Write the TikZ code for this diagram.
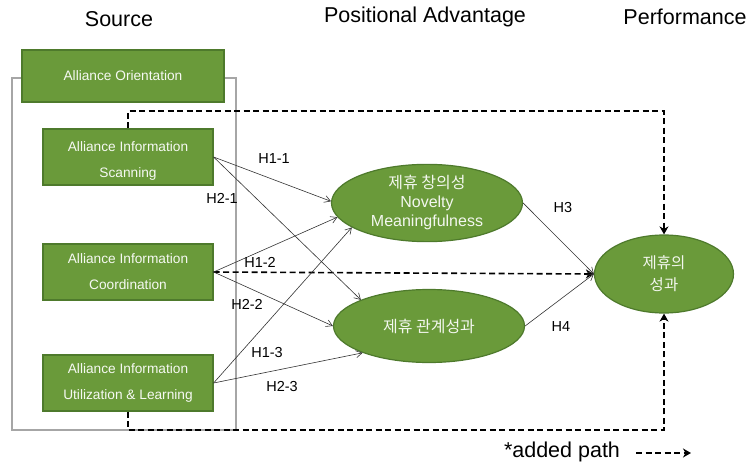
\documentclass[tikz,border=0pt]{standalone}
\usepackage{fontspec}
\setmainfont{Liberation Sans}
\newfontfamily\kor{Noto Sans CJK KR}
\usetikzlibrary{arrows.meta,shapes.geometric}
\definecolor{boxgreen}{HTML}{6A9A3A}
\definecolor{edgegreen}{HTML}{4E7A2C}
\definecolor{framegray}{HTML}{A6A6A6}
\begin{document}
\begin{tikzpicture}[x=1pt,y=-1pt,
	srcbox/.style={draw=edgegreen,line width=1.2pt,fill=boxgreen,text=white!94!boxgreen,
		minimum width=170pt,minimum height=56pt,inner sep=0pt,align=center,
		font=\fontsize{13.7}{26}\selectfont},
	construct/.style={ellipse,draw=edgegreen,line width=1.2pt,fill=boxgreen,text=white!92!boxgreen,
		minimum width=191pt,minimum height=73pt,inner sep=0pt,align=center,
		font=\fontsize{16}{19}\selectfont},
	title/.style={font=\fontsize{21.5}{24}\selectfont},
	hyp/.style={font=\fontsize{14.5}{16}\selectfont},
	path/.style={-{Straight Barb[length=6pt,width=7pt]},line width=.6pt,black!80},
	added/.style={-{Stealth[length=8pt,width=9pt,inset=2.5pt]},line width=1.6pt,dash pattern=on 6pt off 3.5pt}]
	\useasboundingbox (0,0) rectangle (750,468);
	\node[title] (tsrc) at (119,19) {Source};
	\node[title] (tpos) at (425,17) {Positional Advantage};
	\node[title] (tperf) at (685,17) {Performance};
	\draw[framegray,line width=1.5pt] (12,78) rectangle (236,430);
	\node[srcbox,minimum width=202pt,minimum height=52pt] (orient) at (123,76) {Alliance Orientation};
	\node[srcbox] (scan) at (128,157) {\strut Alliance Information\\Scanning};
	\node[srcbox] (coord) at (128,272) {Alliance Information\\Coordination};
	\node[srcbox] (util) at (128,383) {Alliance Information\\Utilization \& Learning};
	\node[construct] (nov) at (427,203) {{\kor 제휴 창의성}\\Novelty\\Meaningfulness};
	\node[construct] (rel) at (429,326) {\kor 제휴 관계성과};
	\node[construct,minimum width=139pt,minimum height=78pt,font=\kor\fontsize{15.5}{22}\selectfont] (perf) at (664,274) {제휴의\\성과};
	\coordinate (topline) at (0,111);
	\coordinate (botline) at (0,430);
	\draw[added] (scan.north) -- (scan.north |- topline) -| (perf.north);
	\draw[added] (util.south) -- (util.south |- botline) -| (perf.south);
	\draw[added] (coord.east) -- (perf.west);
	\draw[path] (scan.east) -- (nov.179);
	\draw[path] (scan.east) -- (rel.159);
	\draw[path] (coord.east) -- (nov.189);
	\draw[path] (coord.east) -- (rel.180);
	\draw[path] (util.east) -- (nov.198);
	\draw[path] (util.east) -- (rel.202);
	\draw[path] (nov.east) -- (perf.west);
	\draw[path] (rel.east) -- (perf.west);
	\foreach \lab/\px/\py in {H1-1/274/159,H2-1/222/198,H1-2/260/262,H2-2/247/304,H1-3/267/353,H2-3/282/387,H3/563/208,H4/561/327}
		\node[hyp] (h\lab) at (\px,\py) {\lab};
	\node[title] (legend) at (562,452) {*added path};
	\coordinate (legA) at (636,453);
	\coordinate (legB) at (691,453);
	\draw[added] (legA) -- (legB);
\end{tikzpicture}
\end{document}
